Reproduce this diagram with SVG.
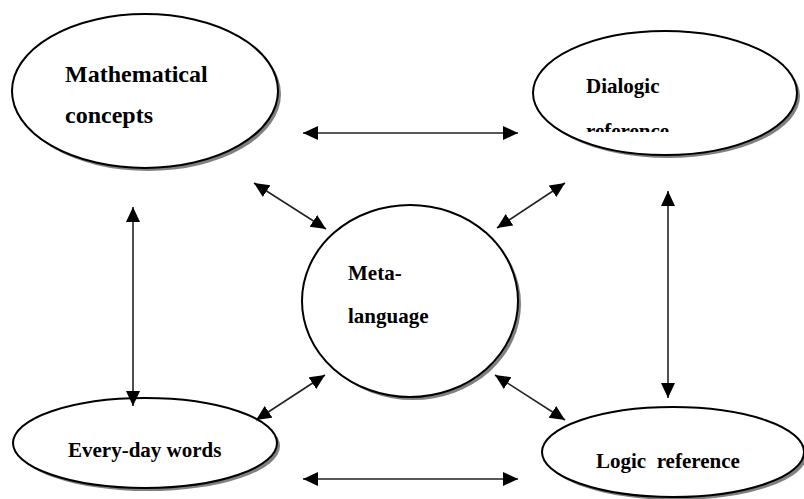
<svg xmlns="http://www.w3.org/2000/svg" width="804" height="499" viewBox="0 0 804 499">
<style>
.node .sh{fill:#808080;stroke:none}
.node .bd{fill:#fff;stroke:#000;stroke-width:2}
.node text{font-family:"Liberation Serif","Times New Roman",serif;font-weight:bold;font-size:21px;fill:#000}
.conn line{stroke:#222;stroke-width:1.6;fill:none;marker-start:url(#ah);marker-end:url(#ah)}
</style>
<defs>
<marker id="ah" markerUnits="userSpaceOnUse" markerWidth="16" markerHeight="15" refX="15" refY="7" orient="auto-start-reverse">
<path d="M0,0 L15,7 L0,14 Z" fill="#000"/>
</marker>
<clipPath id="clipRef"><rect x="560" y="60" width="200" height="72"/></clipPath>
</defs>
<rect width="804" height="499" fill="#fff"/>
<g id="n-math" class="node">
<ellipse class="sh" cx="148" cy="94" rx="133" ry="77"/>
<ellipse class="bd" cx="145" cy="91" rx="133" ry="77"/>
<text x="65" y="82" style="font-size:24px">Mathematical</text>
<text x="65" y="123" style="font-size:24px">concepts</text>
</g>
<g id="n-dialogic" class="node">
<ellipse class="sh" cx="668" cy="96" rx="132" ry="62"/>
<ellipse class="bd" cx="665" cy="93" rx="132" ry="62"/>
<text x="586" y="93">Dialogic</text>
<text x="586" y="138" clip-path="url(#clipRef)">reference</text>
</g>
<g id="n-meta" class="node">
<ellipse class="sh" cx="413" cy="304" rx="108" ry="96"/>
<ellipse class="bd" cx="410" cy="301" rx="108" ry="96"/>
<text x="348" y="280">Meta-</text>
<text x="348" y="323">language</text>
</g>
<g id="n-everyday" class="node">
<ellipse class="sh" cx="148" cy="446" rx="132" ry="45"/>
<ellipse class="bd" cx="145" cy="443" rx="132" ry="45"/>
<text x="68" y="457">Every-day words</text>
</g>
<g id="n-logic" class="node">
<ellipse class="sh" cx="676" cy="455" rx="131" ry="45"/>
<ellipse class="bd" cx="673" cy="452" rx="131" ry="45"/>
<text x="596" y="468" xml:space="preserve">Logic  reference</text>
</g>
<g id="connectors" class="conn">
<line x1="303" y1="133" x2="518" y2="133"/>
<line x1="303" y1="479" x2="518" y2="479"/>
<line x1="133" y1="207" x2="133" y2="406"/>
<line x1="668" y1="191" x2="668" y2="398"/>
<line x1="254" y1="183" x2="326" y2="229"/>
<line x1="497" y1="228" x2="565" y2="183"/>
<line x1="325" y1="375" x2="256" y2="420"/>
<line x1="495" y1="375" x2="565" y2="420"/>
</g>
</svg>
